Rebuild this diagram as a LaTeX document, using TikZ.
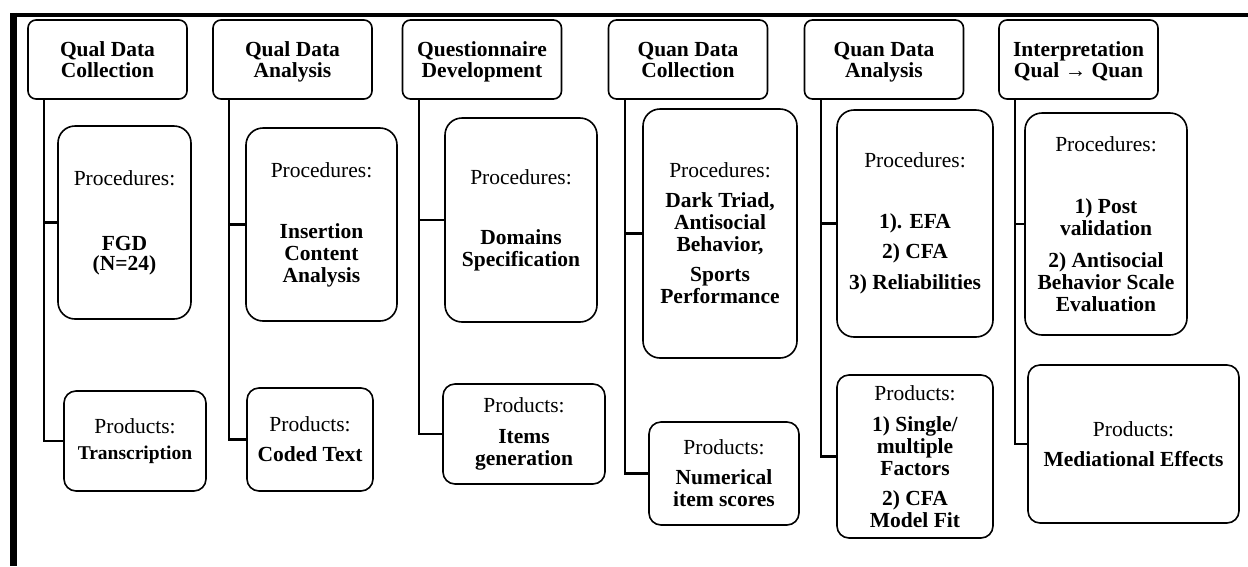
\documentclass[tikz,border=0pt]{standalone}
\usepackage{fontspec}
\setmainfont{Liberation Serif}
\usetikzlibrary{calc}

\begin{document}
\begin{tikzpicture}[x=1pt, y=-1pt,
    box/.style = {draw, line width=1.6pt, align=center, inner sep=2pt,
                  font=\fontsize{21.5}{22}\selectfont},
    head/.style = {box, rounded corners=8pt, minimum width=159pt, minimum height=79pt,
                   text depth=0pt, font=\fontsize{21.5}{21}\selectfont\bfseries},
    proc/.style = {box, rounded corners=17pt},
    prod/.style = {box, rounded corners=12pt},
    wire/.style = {draw, line width=2.2pt}]
\useasboundingbox (0,0) rectangle (1248,566);

% frame
\draw[line width=4.5pt] (10,15)--(1248,15);
\draw[line width=6.5pt] (13.3,12.75)--(13.3,566);

% stages
\node[head] (h1) at (107.5,59.5) {Qual Data\\Collection};
\node[head] (h2) at (292.5,59.5) {Qual Data\\Analysis};
\node[head] (h3) at (482,59.5) {Questionnaire\\Development};
\node[head] (h4) at (688,59.5) {Quan Data\\Collection};
\node[head] (h5) at (884,59.5) {Quan Data\\Analysis};
\node[head] (h6) at (1078.5,59.5) {Interpretation\\Qual → Quan};

% procedures
\node[proc, minimum width=133pt, minimum height=193pt] (p1) at (124.5,222.5)
  {Procedures:\\[43pt] \textbf{FGD}\\[-2pt] \textbf{(N=24)}};
\node[proc, minimum width=151pt, minimum height=193pt] (p2) at (321.5,224.5)
  {Procedures:\\[39pt] \textbf{Insertion}\\ \textbf{Content}\\ \textbf{Analysis}};
\node[proc, minimum width=152pt, minimum height=204pt] (p3) at (521,220)
  {Procedures:\\[38pt] \textbf{Domains}\\ \textbf{Specification}};
\node[proc, minimum width=154pt, minimum height=249pt] (p4) at (720,233.5)
  {Procedures:\\[8pt] \textbf{Dark Triad,}\\ \textbf{Antisocial}\\ \textbf{Behavior,}\\[8pt]
   \textbf{Sports}\\ \textbf{Performance}};
\node[proc, minimum width=156pt, minimum height=227pt] (p5) at (915,223.5)
  {Procedures:\\[39pt] \textbf{1). EFA}\\[8pt] \textbf{2) CFA}\\[9pt] \textbf{3) Reliabilities}};
\node[proc, minimum width=162pt, minimum height=222pt] (p6) at (1106,224)
  {Procedures:\\[40pt] \textbf{1) Post}\\ \textbf{validation}\\[10pt] \textbf{2) Antisocial}\\
   \textbf{Behavior Scale}\\ \textbf{Evaluation}};

% products
\node[prod, minimum width=142pt, minimum height=100pt] (r1) at (135,441)
  {Products:\\[4pt] {\fontsize{19.5}{20}\selectfont\bfseries Transcription}};
\node[prod, minimum width=126pt, minimum height=103pt] (r2) at (310,439.5)
  {Products:\\[8pt] \textbf{Coded Text}};
\node[prod, minimum width=162pt, minimum height=100pt] (r3) at (524,434)
  {Products:\\[9pt] \textbf{Items}\\ \textbf{generation}};
\node[prod, minimum width=150pt, minimum height=103pt] (r4) at (724,473.5)
  {Products:\\[8pt] \textbf{Numerical}\\ \textbf{item scores}};
\node[prod, minimum width=156pt, minimum height=163pt] (r5) at (915,456.5)
  {Products:\\[9pt] \textbf{1) Single/}\\ \textbf{multiple}\\ \textbf{Factors}\\[8pt]
   \textbf{2) CFA}\\ \textbf{Model Fit}};
\node[prod, minimum width=211pt, minimum height=158pt] (r6) at (1133.5,444)
  {Products:\\[8pt] \textbf{Mediational Effects}};

% connectors
\foreach \i in {1,...,6}{
  \coordinate (t\i) at ([xshift=17pt]h\i.south west);
  \path[wire] (t\i) |- (r\i.west);
  \path[wire] (t\i |- p\i.west) -- (p\i.west);
}
\end{tikzpicture}
\end{document}
